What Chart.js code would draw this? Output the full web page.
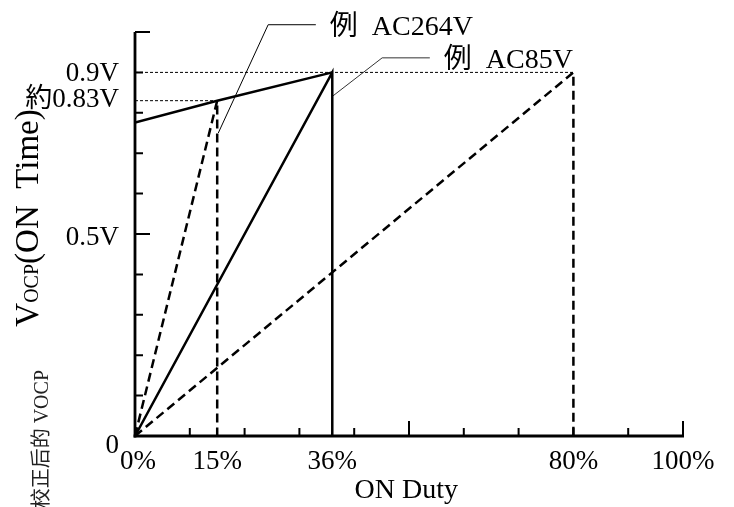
<!DOCTYPE html>
<html><head><meta charset="utf-8">
<script src="https://cdn.jsdelivr.net/npm/chart.js@4/dist/chart.umd.min.js"></script>
<style>html,body{margin:0;padding:0;background:#fff;}canvas{display:block}</style>
</head><body>
<canvas id="c" width="734" height="507"></canvas>
<script>
// ---- data ----
const xTickValues = [0, 15, 36, 80, 100];
const xTickLabels = ['0%', '15%', '36%', '80%', '100%'];
const yTickValues = [0, 0.5, 0.83, 0.9];
const yTickLabels = ['0', '0.5V', '約0.83V', '0.9V'];
const xMinorTicks = [10, 20, 30, 40, 60, 70, 80, 90];
const xMajorTicks = [50, 100];
const yMinorTicks = [0.1, 0.2, 0.3, 0.4, 0.6, 0.7, 0.8, 0.9];
const yMajorTicks = [0.5, 1.0];

const ac264Duty = [0, 15, 36];
const ac264Vocp = [0.776, 0.83, 0.9];
const ac264RampDuty = [0, 15, 15];
const ac264RampVocp = [0, 0.83, 0];
const ac85RampDuty = [0, 36, 36];
const ac85RampVocp = [0, 0.9, 0];
const maxRampDuty = [0, 80, 80];
const maxRampVocp = [0, 0.9, 0];
const ref09Duty = [0, 80];
const ref09Vocp = [0.9, 0.9];
const ref083Duty = [0, 15];
const ref083Vocp = [0.83, 0.83];
const callout264Duty = [15.2, 24.3, 33.0];
const callout264Vocp = [0.75, 1.018, 1.018];
const callout85Duty = [35.95, 45.1, 53.8];
const callout85Vocp = [0.84, 0.936, 0.936];
const calloutTexts = [['例', 'AC264V'], ['例', 'AC85V']];
const xTitle = 'ON Duty';
const yTitleRuns = ['V', 'OCP', '(ON  Time)'];
const yNote = '校正后的 VOCP';

const pts = (xs, ys) => xs.map((x, i) => ({x, y: ys[i]}));
const SERIF = '"Liberation Serif", "Noto Sans CJK JP", serif';

function ds(xs, ys, opts) {
  return Object.assign({data: pts(xs, ys), showLine: true, pointRadius: 0,
    borderColor: '#000', borderWidth: 2.5, fill: false, tension: 0}, opts);
}

const decor = {
  id: 'decor',
  afterDatasetsDraw(chart) {
    const ctx = chart.ctx, xs = chart.scales.x, ys = chart.scales.y;
    const x0 = xs.getPixelForValue(0), x1 = xs.getPixelForValue(100);
    const y0 = ys.getPixelForValue(0), y1 = ys.getPixelForValue(1.0);
    ctx.save();
    ctx.strokeStyle = '#000';
    ctx.lineCap = 'butt';
    // axes
    ctx.lineWidth = 2.8;
    ctx.beginPath();
    ctx.moveTo(x0, y1); ctx.lineTo(x0, y0 + 1.4);
    ctx.stroke();
    ctx.beginPath(); ctx.moveTo(x0 - 1.4, y0); ctx.lineTo(x1 + 1, y0); ctx.stroke();
    // ticks
    ctx.lineWidth = 2;
    ctx.beginPath();
    yMinorTicks.forEach(v => { const p = ys.getPixelForValue(v); ctx.moveTo(x0, p); ctx.lineTo(x0 + 8, p); });
    yMajorTicks.forEach(v => { const p = ys.getPixelForValue(v); ctx.moveTo(x0, p); ctx.lineTo(x0 + 15, p); });
    xMinorTicks.forEach(v => { const p = xs.getPixelForValue(v); ctx.moveTo(p, y0); ctx.lineTo(p, y0 - 8); });
    xMajorTicks.forEach(v => { const p = xs.getPixelForValue(v); ctx.moveTo(p, y0); ctx.lineTo(p, y0 - 15); });
    ctx.stroke();

    ctx.fillStyle = '#000';
    // y tick labels
    ctx.font = '27px ' + SERIF;
    ctx.textAlign = 'right';
    ctx.textBaseline = 'alphabetic';
    yTickValues.forEach((v, i) => {
      let p = ys.getPixelForValue(v);
      let base = p + 9;
      if (v === 0) base = p + 17;
      if (v === 0.83) base = p + 6;
      if (v === 0.5) base = p + 11;
      ctx.fillText(yTickLabels[i], x0 - 16, base);
    });
    // x tick labels
    ctx.textAlign = 'center';
    xTickValues.forEach((v, i) => {
      let p = xs.getPixelForValue(v);
      if (v === 0) p += 3;
      ctx.fillText(xTickLabels[i], p, y0 + 33);
    });
    // x title
    ctx.font = '28px ' + SERIF;
    ctx.fillText(xTitle, xs.getPixelForValue(49.5), y0 + 62);

    // y title (rotated)
    const sizes = [33, 20, 33];
    let widths = yTitleRuns.map((t, i) => { ctx.font = sizes[i] + 'px ' + SERIF; return ctx.measureText(t).width; });
    const total = widths.reduce((a, b) => a + b, 0);
    ctx.save();
    ctx.translate(38, 218);
    ctx.rotate(-Math.PI / 2);
    ctx.textAlign = 'left';
    let cx = -total / 2;
    yTitleRuns.forEach((t, i) => {
      ctx.font = sizes[i] + 'px ' + SERIF;
      ctx.fillText(t, cx, 0);
      cx += widths[i];
    });
    ctx.restore();

    // note (rotated)
    ctx.save();
    ctx.translate(48, 370);
    ctx.rotate(-Math.PI / 2);
    ctx.textAlign = 'right';
    ctx.font = '20px "Liberation Serif", "Noto Sans CJK SC", serif';
    ctx.fillStyle = '#222';
    ctx.fillText(yNote, 0, 0);
    ctx.restore();

    // callout texts
    ctx.font = '28px ' + SERIF;
    ctx.textAlign = 'left';
    const ends = [[callout264Duty[2], callout264Vocp[2]], [callout85Duty[2], callout85Vocp[2]]];
    ends.forEach((e, i) => {
      const px = xs.getPixelForValue(e[0]), py = ys.getPixelForValue(e[1]);
      ctx.fillText(calloutTexts[i][0], px + 14, py + 10);
      ctx.fillText(calloutTexts[i][1], px + 56, py + 10);
    });
    ctx.restore();
  }
};

new Chart(document.getElementById('c'), {
  type: 'scatter',
  data: {
    datasets: [
      ds(ref09Duty, ref09Vocp, {borderWidth: 1, borderDash: [3, 2]}),
      ds(ref083Duty, ref083Vocp, {borderWidth: 1, borderDash: [3, 2]}),
      ds(ac264Duty, ac264Vocp, {}),
      ds(ac264RampDuty, ac264RampVocp, {borderDash: [9, 5]}),
      ds(ac85RampDuty, ac85RampVocp, {}),
      ds(maxRampDuty, maxRampVocp, {borderDash: [9, 5]}),
      ds(callout264Duty, callout264Vocp, {borderWidth: 1, clip: false}),
      ds(callout85Duty, callout85Vocp, {borderWidth: 1, borderColor: '#333', clip: false})
    ]
  },
  options: {
    responsive: false,
    animation: false,
    events: [],
    layout: {padding: {left: 135, top: 32, right: 51, bottom: 71}},
    plugins: {legend: {display: false}, tooltip: {enabled: false}},
    scales: {
      x: {type: 'linear', min: 0, max: 100, display: false},
      y: {type: 'linear', min: 0, max: 1.0, display: false}
    }
  },
  plugins: [decor]
});
</script>
</body></html>
